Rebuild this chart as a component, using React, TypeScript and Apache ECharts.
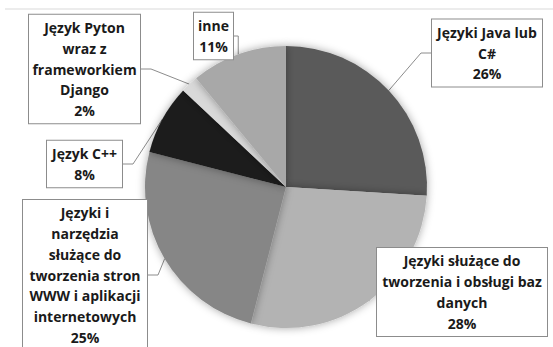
import React, { useEffect, useRef } from "react";
import * as echarts from "echarts";

const categories = [
  "Języki Java lub\nC#",
  "Języki służące do\ntworzenia i obsługi baz\ndanych",
  "Języki i\nnarzędzia\nsłużące do\ntworzenia stron\nWWW i aplikacji\ninternetowych",
  "Język C++",
  "Język Pyton\nwraz z\nframeworkiem\nDjango",
  "inne",
];
const values = [26, 28, 25, 8, 2, 11];
const colors = ["#5a5a5a", "#b3b3b3", "#868686", "#1e1e1e", "#d9d9d9", "#a8a8a8"];
// label box centres and widths (layout only)
const labelPos = [
  [487, 53, 102],
  [462, 292, 162],
  [85, 275, 116],
  [84.5, 164, 67],
  [84.5, 69, 103],
  [213.5, 36, 31],
];

export default function App() {
  const ref = useRef<HTMLDivElement>(null);
  useEffect(() => {
    document.body.style.margin = "0";
    const chart = echarts.init(ref.current!, null, { renderer: "svg" });
    chart.setOption({
      animation: false,
      backgroundColor: "#ffffff",
      graphic: [
        {
          type: "line",
          shape: { x1: 5, y1: 9, x2: 553, y2: 9 },
          style: { stroke: "#d9d9d9", lineWidth: 1 },
        },
      ],
      series: [
        {
          type: "pie",
          center: [286, 187],
          radius: 141,
          startAngle: 90,
          clockwise: true,
          data: values.map((v, i) => ({
            value: v,
            name: categories[i],
            itemStyle: { color: colors[i] },
            label: { width: labelPos[i][2] },
          })),
          itemStyle: {
            shadowBlur: 8,
            shadowColor: "rgba(0,0,0,0.35)",
          },
          label: {
            show: true,
            position: "outside",
            formatter: (p: any) => `${p.name}\n${p.value}%`,
            fontFamily: "'Open Sans', sans-serif",
            fontWeight: "bold",
            fontSize: 14,
            lineHeight: 20.7,
            color: "#1a1a1a",
            align: "center",
            backgroundColor: "#ffffff",
            borderColor: "#8c8c8c",
            borderWidth: 1,
            padding: [4, 4, 1, 4],
            overflow: "none",
          },
          labelLine: {
            show: true,
            length: 10,
            length2: 10,
            lineStyle: { color: "#8c8c8c", width: 1 },
          },
          labelLayout: (params: any) => {
            const p = labelPos[params.dataIndex];
            return { x: p[0], y: p[1], align: "center", verticalAlign: "middle" };
          },
        },
      ],
    });
    return () => chart.dispose();
  }, []);
  return <div ref={ref} style={{ width: 553, height: 347 }} />;
}
